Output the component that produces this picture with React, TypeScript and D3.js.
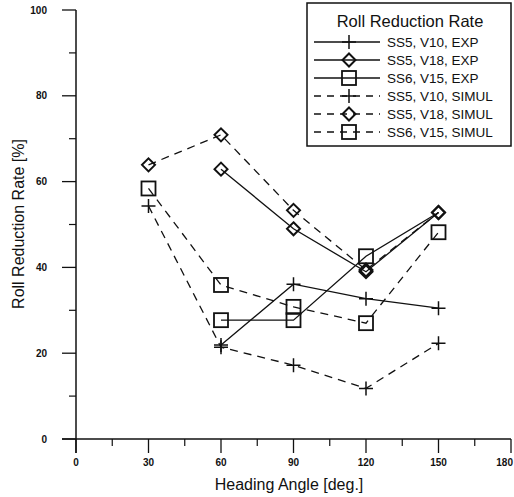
import React from "react";
import * as d3 from "d3";

// heading angles [deg.]
const expAngles = [60, 90, 120, 150];
const simAngles = [30, 60, 90, 120, 150];

// roll reduction rate [%]
const ss5v10Exp = [21.9, 36.1, 32.7, 30.5];
const ss5v18Exp = [62.9, 49.0, 39.0, 52.8];
const ss6v15Exp = [27.7, 27.7, 42.6, 52.8];
const ss5v10Sim = [54.3, 21.4, 17.2, 11.8, 22.3];
const ss5v18Sim = [63.9, 70.9, 53.3, 39.4, 52.8];
const ss6v15Sim = [58.4, 35.9, 30.8, 27.0, 48.2];

// the last SS6 EXP point has no symbol of its own in the original (hidden under the diamond)
const ss6v15ExpMarked = [true, true, true, false];

const xTicks = [0, 30, 60, 90, 120, 150, 180];
const yTicks = [0, 20, 40, 60, 80, 100];

type Marker = "plus" | "diamond" | "square";

const series: {
  name: string;
  angles: number[];
  values: number[];
  marker: Marker;
  dashed: boolean;
  marked?: boolean[];
}[] = [
  { name: "SS5, V10, EXP", angles: expAngles, values: ss5v10Exp, marker: "plus", dashed: false },
  { name: "SS5, V18, EXP", angles: expAngles, values: ss5v18Exp, marker: "diamond", dashed: false },
  { name: "SS6, V15, EXP", angles: expAngles, values: ss6v15Exp, marker: "square", dashed: false, marked: ss6v15ExpMarked },
  { name: "SS5, V10, SIMUL", angles: simAngles, values: ss5v10Sim, marker: "plus", dashed: true },
  { name: "SS5, V18, SIMUL", angles: simAngles, values: ss5v18Sim, marker: "diamond", dashed: true },
  { name: "SS6, V15, SIMUL", angles: simAngles, values: ss6v15Sim, marker: "square", dashed: true },
];

const font = "'Liberation Sans', Arial, sans-serif";
const ink = "#111";

const MarkerShape = ({ type, x, y }: { type: Marker; x: number; y: number }) => {
  if (type === "plus") {
    return (
      <path d={`M${x - 7},${y}H${x + 7}M${x},${y - 7}V${y + 7}`} stroke={ink} strokeWidth={1.5} fill="none" />
    );
  }
  if (type === "diamond") {
    return (
      <path d={`M${x},${y - 6.5}L${x + 6.5},${y}L${x},${y + 6.5}L${x - 6.5},${y}Z`} stroke={ink} strokeWidth={2} fill="none" />
    );
  }
  return <rect x={x - 7} y={y - 7} width={14} height={14} stroke={ink} strokeWidth={1.8} fill="none" />;
};

export default function App() {
  const x = d3.scaleLinear().domain([0, 180]).range([76, 511]);
  const y = d3.scaleLinear().domain([0, 100]).range([439, 10]);

  const line = d3
    .line<[number, number]>()
    .x(d => x(d[0]))
    .y(d => y(d[1]));

  const xMinor = d3.range(15, 180, 30);
  const yMinor = d3.range(10, 100, 20);

  return (
    <svg width={514} height={497} style={{ position: "absolute", left: 0, top: 0, background: "#fff" }}>
      {/* axes */}
      <line x1={62} x2={511} y1={y(0)} y2={y(0)} stroke={ink} strokeWidth={1.5} />
      <line x1={x(0)} x2={x(0)} y1={y(100)} y2={453} stroke={ink} strokeWidth={1.5} />
      {yTicks.map(t => (
        <g key={"y" + t}>
          <line x1={62} x2={x(0)} y1={y(t)} y2={y(t)} stroke={ink} strokeWidth={1.3} />
          <text x={47} y={y(t) + 3.5} textAnchor="end" fontSize={10} fontFamily={font} fontWeight="bold" fill={ink}>
            {t}
          </text>
        </g>
      ))}
      {yMinor.map(t => (
        <line key={"ym" + t} x1={69} x2={x(0)} y1={y(t)} y2={y(t)} stroke={ink} strokeWidth={1.2} />
      ))}
      {xTicks.map((t, i) => (
        <g key={"x" + t}>
          <line x1={x(t)} x2={x(t)} y1={y(0)} y2={453} stroke={ink} strokeWidth={1.3} />
          <text
            x={i === xTicks.length - 1 ? 513 : x(t)}
            y={466}
            textAnchor={i === xTicks.length - 1 ? "end" : "middle"}
            fontSize={10}
            fontFamily={font}
            fontWeight="bold"
            fill={ink}
          >
            {t}
          </text>
        </g>
      ))}
      {xMinor.map(t => (
        <line key={"xm" + t} x1={x(t)} x2={x(t)} y1={y(0)} y2={446} stroke={ink} strokeWidth={1.2} />
      ))}

      <text x={289} y={490} textAnchor="middle" fontSize={16} fontFamily={font} fill={ink}>
        Heading Angle [deg.]
      </text>
      <text
        transform={`translate(24,224) rotate(-90)`}
        textAnchor="middle"
        fontSize={16}
        fontFamily={font}
        fill={ink}
      >
        Roll Reduction Rate [%]
      </text>

      {/* series */}
      {series.map(s => {
        const pts = s.angles.map((a, i) => [a, s.values[i]] as [number, number]);
        return (
          <g key={s.name}>
            <path
              d={line(pts) || ""}
              fill="none"
              stroke={ink}
              strokeWidth={1.3}
              strokeDasharray={s.dashed ? "8,6" : undefined}
            />
            {pts.map((p, i) =>
              s.marked && !s.marked[i] ? null : (
                <MarkerShape key={i} type={s.marker} x={x(p[0])} y={y(p[1])} />
              )
            )}
          </g>
        );
      })}

      {/* legend */}
      <rect x={307} y={3} width={204} height={143} fill="#fff" stroke={ink} strokeWidth={1.5} />
      <text x={410} y={27} textAnchor="middle" fontSize={16.5} fontFamily={font} fill={ink}>
        Roll Reduction Rate
      </text>
      {series.map((s, i) => {
        const cy = 42 + i * 18;
        return (
          <g key={"leg" + s.name}>
            <line
              x1={314}
              x2={380}
              y1={cy}
              y2={cy}
              stroke={ink}
              strokeWidth={1.3}
              strokeDasharray={s.dashed ? "7,6" : undefined}
            />
            <MarkerShape type={s.marker} x={349} y={cy} />
            <text x={387} y={cy + 5} fontSize={13.5} fontFamily={font} fill={ink}>
              {s.name}
            </text>
          </g>
        );
      })}
    </svg>
  );
}
